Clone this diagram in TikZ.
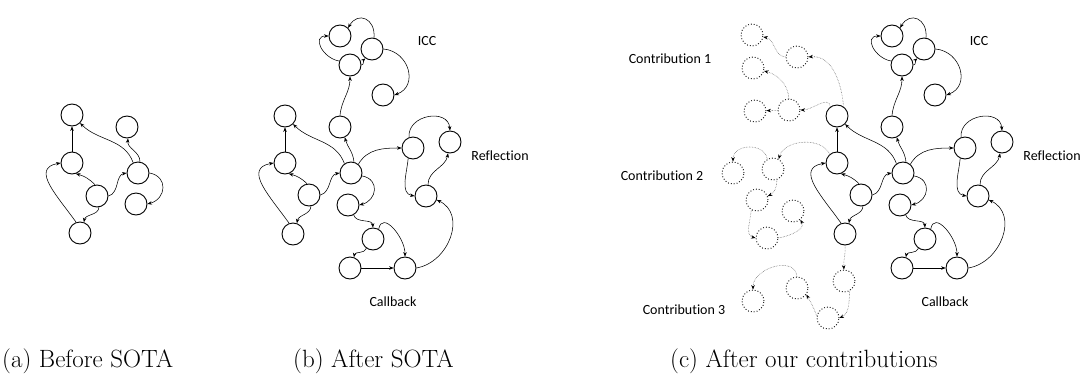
\documentclass[tikz,border=0pt]{standalone}
\usepackage{fontspec}
\newfontfamily\labelfont{Carlito}[Ligatures=NoCommon]
\usetikzlibrary{arrows.meta}

\tikzset{
  st/.style={draw, circle, minimum size=22pt, inner sep=0pt, line width=0.9pt},
  dt/.style={st, dotted},
  ed/.style={line width=0.55pt, -{Stealth[length=4.5pt,width=3.5pt]}},
  ded/.style={line width=0.55pt, densely dotted, draw=black!60,
    -{Stealth[length=4.5pt,width=3.5pt,black]}},
  lbl/.style={font=\labelfont\fontsize{14}{16}\selectfont, inner sep=0pt},
  captxt/.style={font=\fontsize{25}{28}\selectfont, anchor=base west, inner sep=0pt},
}

% the graph after the SOTA methods (ICC, Reflection, Callback)
\newcommand\sotagraph{%
  \node[st] (icc1) at (340,-36) {};
  \node[st] (icc2) at (372,-49) {};
  \node[st] (icc3) at (350,-65) {};
  \node[st] (icc4) at (383,-95) {};
  \node[st] (icc5) at (340,-127) {};
  \node[st] (L1) at (285,-116) {};
  \node[st] (L2) at (285,-163) {};
  \node[st] (L3) at (309,-195) {};
  \node[st] (L4) at (293,-234) {};
  \node[st] (H) at (351,-173) {};
  \node[st] (R1) at (413,-148) {};
  \node[st] (R2) at (450,-142) {};
  \node[st] (R3) at (426,-196) {};
  \node[st] (D1) at (348,-205) {};
  \node[st] (D2) at (373,-239) {};
  \node[st] (D3) at (350,-268) {};
  \node[st] (D4) at (405,-268) {};
  \draw[ed] (icc3.160) to[out=170,in=180,looseness=1.6] (icc1.west);
  \draw[ed] (icc2.80) to[out=85,in=60,looseness=1.8] (icc1.45);
  \draw[ed] (icc3.east) to[out=10,in=-140] (icc2.-125);
  \draw[ed] (icc2.east) to[out=-5,in=20,looseness=1.4] (icc4.east);
  \draw[ed] (icc5.north) to[out=85,in=-90] (icc3.south);
  \draw[ed] (L2) -- (L1);
  \draw[ed] (H.125) to[out=110,in=-45] (L1.-45);
  \draw[ed] (H.75) to[out=95,in=-75] (icc5.-65);
  \draw[ed] (H.50) to[out=60,in=180] (R1.west);
  \draw[ed] (R1.110) to[out=95,in=95,looseness=1.4] (R2.north);
  \draw[ed] (R1.-115) to[out=-95,in=170] (R3.west);
  \draw[ed] (R3.80) to[out=90,in=-100] (R2.-100);
  \draw[ed] (D4.east) to[out=10,in=-25,looseness=1.2] (R3.-20);
  \draw[ed] (L3.100) to[out=135,in=-15] (L2.-70);
  \draw[ed] (L3.east) to[out=15,in=190] (H.west);
  \draw[ed] (L4.110) to[out=125,in=190,looseness=1.3] (L2.west);
  \draw[ed] (L3.-80) to[out=-95,in=80] (L4.70);
  \draw[ed] (H.-15) to[out=-10,in=15,looseness=1.6] (D1.east);
  \draw[ed] (D1.-60) to[out=-75,in=95] (D2.north);
  \draw[ed] (D2.-125) to[out=-110,in=80] (D3.70);
  \draw[ed] (D2.60) to[out=80,in=90,looseness=1.3] (D4.north);
  \draw[ed] (D3) -- (D4);
  \node[lbl] (iccl) at (427,-41) {ICC};
  \node[lbl] (refl) at (500,-156) {Reflection};
  \node[lbl] (cbl) at (393,-302) {Callback};
}

\begin{document}
\begin{tikzpicture}[x=1pt,y=1pt]
\useasboundingbox (0,0) rectangle (1086,-378);

% (a) before SOTA
\node[st] (A1) at (72,-115) {};
\node[st] (A2) at (127,-127) {};
\node[st] (A3) at (72,-163) {};
\node[st] (A4) at (97,-196) {};
\node[st] (A5) at (138,-173) {};
\node[st] (A6) at (136,-204) {};
\node[st] (A7) at (80,-233) {};
\draw[ed] (A3) -- (A1);
\draw[ed] (A5.115) to[out=110,in=-45] (A1.-45);
\draw[ed] (A5.80) to[out=90,in=-95] (A2.-85);
\draw[ed] (A4.100) to[out=135,in=-15] (A3.-70);
\draw[ed] (A4.east) to[out=15,in=190] (A5.west);
\draw[ed] (A7.110) to[out=125,in=190,looseness=1.3] (A3.west);
\draw[ed] (A4.-80) to[out=-95,in=80] (A7.70);
\draw[ed] (A5.east) to[out=-10,in=15,looseness=1.6] (A6.east);

% (b) after SOTA
\begin{scope}[name prefix=b-]
  \sotagraph
\end{scope}

% (c) after our contributions
\begin{scope}[shift={(552,0)}, name prefix=c-]
  \sotagraph
\end{scope}

% contribution 1
\node[dt] (P1) at (752,-35) {};
\node[dt] (P2) at (797,-57) {};
\node[dt] (P3) at (753,-68) {};
\node[dt] (P4) at (755,-111) {};
\node[dt] (P5) at (789,-110) {};
\draw[ded] (P2.west) to[out=175,in=-10] (P1.-10);
\draw[ded] (P5.north) to[out=95,in=-15] (P3.-15);
\draw[ded] (P5) -- (P4);
\draw[ded] (c-L1.55) to[out=95,in=5] (P2.east);
\draw[ded] (c-L1.125) to[out=100,in=0] (P5.east);

% contribution 2
\node[dt] (Q1) at (733,-173) {};
\node[dt] (Q2) at (773,-169) {};
\node[dt] (Q3) at (757,-200) {};
\node[dt] (Q4) at (793,-211) {};
\node[dt] (Q5) at (767,-238) {};
\draw[ded] (c-L2.130) to[out=115,in=75] (Q2.60);
\draw[ded] (Q2.120) to[out=100,in=90,looseness=1.3] (Q1.north);
\draw[ded] (Q2.-70) to[out=-90,in=25] (Q3.20);
\draw[ded] (Q3.-120) to[out=-95,in=165] (Q5.west);
\draw[ded] (Q5.east) to[out=10,in=-60] (Q4.-50);

% contribution 3
\node[dt] (S1) at (753,-301) {};
\node[dt] (S2) at (797,-288) {};
\node[dt] (S3) at (828,-318) {};
\node[dt] (S4) at (844,-281) {};
\draw[ded] (c-L4.south) to[out=-85,in=95] (S4.north);
\draw[ded] (S4.-60) to[out=-95,in=25] (S3.east);
\draw[ded] (S3.170) to[out=110,in=-60] (S2.-35);
\draw[ded] (S2.north) to[out=95,in=90,looseness=1.2] (S1.north);

\node[lbl] (con1) at (670,-59) {Contribution 1};
\node[lbl] (con2) at (662,-176) {Contribution 2};
\node[lbl] (con3) at (684,-310) {Contribution 3};

% captions
\node[captxt] (capa) at (2,-367) {(a) Before SOTA};
\node[captxt] (capb) at (293,-367) {(b) After SOTA};
\node[captxt] (capc) at (670,-367) {(c) After our contributions};
\end{tikzpicture}
\end{document}
